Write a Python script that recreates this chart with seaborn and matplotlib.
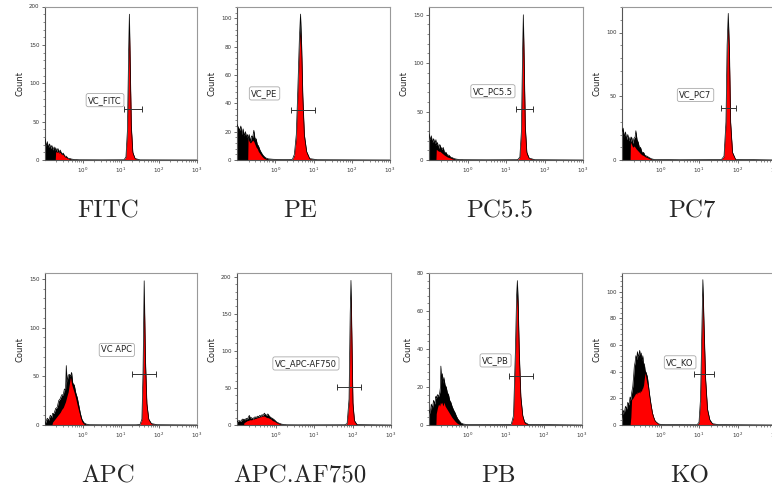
import matplotlib
matplotlib.use("Agg")
import matplotlib.pyplot as plt
import seaborn as sns
from matplotlib.ticker import AutoMinorLocator, LogLocator, NullFormatter, MultipleLocator

# panel names, shown under each histogram
names = ["FITC", "PE", "PC5.5", "PC7", "APC", "APC.AF750", "PB", "KO"]
gate_labels = ["VC_FITC", "VC_PE", "VC_PC5.5", "VC_PC7", "VC APC", "VC_APC-AF750", "VC_PB", "VC_KO"]

# histogram profiles: log10 intensity, all events (black), gated events (red)
fitc_x = [-1.00, -0.97, -0.94, -0.91, -0.88, -0.85, -0.82, -0.79, -0.76, -0.73,
          -0.72, -0.69, -0.66, -0.63, -0.60, -0.56, -0.52, -0.48, -0.44, -0.40,
          -0.35, -0.30, -0.22, -0.10, 0.50, 1.08, 1.13, 1.17, 1.20, 1.22,
          1.24, 1.27, 1.31, 1.37, 1.50, 3.00]
fitc_all = [28, 18, 24, 16, 21, 15, 19, 13, 17, 12,
            16, 11, 15, 10, 13, 8, 9, 5, 5, 2.5,
            2, 1.2, 0.6, 0.3, 0.2, 0.3, 4, 40, 140, 190,
            130, 45, 10, 2, 0.2, 0]
fitc_gated = [0, 0, 0, 0, 0, 0, 0, 0, 0, 0,
              11, 10, 11, 9, 10, 7, 7, 4, 3.5, 2,
              1, 0.5, 0, 0, 0, 0.3, 3.5, 36, 125, 172,
              118, 40, 8, 1.5, 0.1, 0]

pe_x = [-1.00, -0.93, -0.90, -0.87, -0.84, -0.81, -0.78, -0.75, -0.72,
        -0.71, -0.68, -0.65, -0.62, -0.59, -0.56, -0.53, -0.50, -0.47, -0.44,
        -0.40, -0.36, -0.31, -0.25, -0.18, -0.05, 0.10, 0.30,
        0.45, 0.50, 0.55, 0.59, 0.63, 0.66, 0.69, 0.72, 0.76, 0.82, 0.90, 1.10, 3.00]
pe_all = [25, 21, 24, 18, 22, 17, 20, 16, 18,
          14, 18, 13, 17, 16, 21, 15, 15, 11, 10,
          7, 5, 3, 1.5, 0.8, 0.5, 0.4, 0.3,
          0.5, 4, 18, 50, 85, 103, 80, 45, 18, 6, 1, 0.2, 0]
pe_gated = [0, 0, 0, 0, 0, 0, 0, 0, 0,
            15, 13, 12, 13, 14, 13, 11, 9, 8, 6,
            4.5, 3, 1.5, 0.6, 0.2, 0, 0, 0,
            0.3, 3, 15, 45, 78, 90, 72, 40, 15, 5, 0.6, 0, 0]

pc55_x = [-1.00, -0.97, -0.94, -0.91, -0.88, -0.85, -0.82,
          -0.81, -0.78, -0.75, -0.72, -0.69, -0.66, -0.63, -0.60, -0.56, -0.52,
          -0.48, -0.44, -0.40, -0.35, -0.30, -0.22, -0.10, 0.50,
          1.30, 1.36, 1.40, 1.43, 1.45, 1.47, 1.50, 1.54, 1.60, 1.75, 3.00]
pc55_all = [27, 21, 25, 18, 22, 17, 21,
            15, 18, 12, 16, 13, 11, 13, 8, 8, 5,
            5, 3, 2.5, 1.5, 1, 0.5, 0.3, 0.2,
            0.3, 3, 30, 110, 150, 105, 35, 8, 2, 0.3, 0]
pc55_gated = [0, 0, 0, 0, 0, 0, 0,
              11, 10, 9, 9, 8, 7, 6, 5, 4, 3,
              2.5, 2, 1.2, 0.6, 0.3, 0, 0, 0,
              0.2, 2.5, 27, 100, 138, 95, 30, 6, 1.5, 0.1, 0]

pc7_x = [-1.00, -0.97, -0.94, -0.91, -0.88, -0.85, -0.82, -0.79,
         -0.78, -0.75, -0.72, -0.69, -0.66, -0.64, -0.61, -0.58, -0.55, -0.52,
         -0.48, -0.44, -0.40, -0.35, -0.30, -0.24, -0.16, 0.50,
         1.58, 1.65, 1.70, 1.73, 1.76, 1.79, 1.82, 1.87, 1.95, 3.00]
pc7_all = [22, 25, 18, 22, 16, 20, 15, 18,
           14, 18, 13, 17, 18, 23, 16, 14, 10, 10,
           6, 6, 3.5, 3, 2, 1, 0.4, 0.2,
           0.3, 3, 30, 90, 115, 85, 30, 6, 0.5, 0]
pc7_gated = [0, 0, 0, 0, 0, 0, 0, 0,
             14, 12, 10, 11, 10, 9, 8, 7, 6, 5,
             4, 3.5, 2.5, 2, 1.2, 0.5, 0.1, 0,
             0.2, 2.5, 27, 82, 105, 77, 27, 5, 0.3, 0]

apc_x = [-1.00, -0.98, -0.94, -0.90, -0.86, -0.82,
         -0.80, -0.76, -0.72, -0.68, -0.64, -0.60, -0.56, -0.52, -0.49, -0.46,
         -0.44, -0.42, -0.39, -0.36, -0.33, -0.30, -0.27, -0.23, -0.19, -0.15,
         -0.11, -0.07, -0.03, 0.02, 0.08, 0.17, 0.50, 1.40, 1.50, 1.55,
         1.58, 1.61, 1.64, 1.68, 1.73, 1.80, 1.95, 3.00]
apc_all = [0, 3, 7, 5, 10, 8,
           12, 12, 17, 18, 25, 27, 31, 31, 37, 36,
           61, 44, 51, 52, 50, 54, 43, 41, 33, 28,
           20, 12, 6, 2.5, 1, 0.3, 0.2, 0.2, 0.5, 6,
           55, 148, 70, 22, 6, 1.5, 0.3, 0]
apc_gated = [0, 0, 0, 0, 0, 0,
             3, 5, 7, 9, 11, 13, 16, 18, 21, 24,
             27, 30, 34, 42, 49, 42, 38, 33, 27, 20,
             14, 8, 3.5, 1, 0.3, 0, 0, 0, 0.3, 5,
             50, 135, 62, 19, 5, 1, 0.2, 0]

af750_x = [-1.00, -0.95, -0.90, -0.86, -0.83,
           -0.82, -0.79, -0.76, -0.73, -0.70, -0.68, -0.65, -0.62, -0.59, -0.56,
           -0.53, -0.50, -0.47, -0.44, -0.41, -0.38, -0.35, -0.32, -0.29, -0.26,
           -0.23, -0.20, -0.16, -0.12, -0.08, -0.03, 0.03, 0.09, 0.15, 0.22,
           0.30, 0.60, 1.80, 1.86, 1.91, 1.94, 1.96, 1.98, 2.01, 2.05, 2.12, 3.00]
af750_all = [4, 6, 5, 8, 7,
             8, 7, 9, 8, 11, 13, 9, 10, 8, 10,
             11, 10, 12, 11, 13, 12, 14, 13, 16, 14,
             13, 15, 12, 10, 9, 7, 4, 2.5, 1.3, 0.6,
             0.3, 0.2, 0.3, 2, 35, 150, 195, 130, 30, 6, 0.5, 0]
af750_gated = [0, 0, 0, 0, 0,
               3, 4, 5, 6, 6, 7, 7, 7, 8, 8,
               9, 9, 10, 10, 11, 11, 12, 12, 12, 11,
               10, 10, 9, 8, 6, 5, 3, 1.5, 0.6, 0.2,
               0, 0, 0.2, 1.5, 30, 130, 175, 115, 25, 4, 0.3, 0]

pb_x = [-1.00, -0.97, -0.94, -0.91, -0.88, -0.85, -0.82,
        -0.81, -0.78, -0.75, -0.72, -0.70, -0.69, -0.67, -0.65, -0.63, -0.61,
        -0.58, -0.55, -0.52, -0.49, -0.46, -0.43, -0.40, -0.36, -0.32, -0.28,
        -0.24, -0.20, -0.16, -0.10, 0.00, 0.50, 1.15, 1.21, 1.26, 1.29, 1.31,
        1.33, 1.36, 1.40, 1.45, 1.50, 1.60, 3.00]
pb_all = [8, 6, 11, 9, 13, 11, 15,
          14, 16, 15, 17, 20, 31, 24, 27, 22, 25,
          21, 20, 17, 16, 13, 12, 10, 8, 6.5, 4.5,
          3, 2, 1, 0.5, 0.2, 0.2, 0.3, 5, 40, 68, 76,
          65, 38, 15, 5, 1.5, 0.3, 0]
pb_gated = [0, 0, 0, 0, 0, 0, 0,
            6, 9, 11, 10, 12, 11, 12, 11, 10, 12,
            10, 9, 8, 7, 6, 5, 4, 3, 2, 1.2,
            0.6, 0.3, 0, 0, 0, 0, 0.2, 4, 36, 62, 68,
            58, 34, 13, 4, 1, 0.1, 0]

ko_x = [-1.00, -0.97, -0.94, -0.91, -0.88, -0.85, -0.82, -0.79,
        -0.77, -0.75, -0.72, -0.70, -0.68, -0.66, -0.64, -0.62, -0.60, -0.58,
        -0.56, -0.54, -0.52, -0.50, -0.48, -0.46, -0.44, -0.42, -0.40, -0.37,
        -0.34, -0.31, -0.28, -0.25, -0.21, -0.18, -0.14, -0.10, -0.05, 0.00,
        0.20, 0.95, 1.00, 1.04, 1.07, 1.10, 1.13, 1.17, 1.22, 1.28, 1.35, 1.50, 3.00]
ko_all = [5, 11, 9, 14, 12, 17, 15, 21,
          19, 24, 29, 36, 44, 47, 52, 49, 55, 51,
          53, 56, 50, 54, 48, 52, 44, 46, 41, 39,
          36, 29, 22, 16, 9, 6, 3, 2, 0.8, 0.5,
          0.3, 0.2, 2, 20, 65, 109, 75, 35, 12, 4, 1, 0.3, 0]
ko_gated = [0, 0, 0, 0, 0, 0, 0, 0,
            6, 19, 20, 21, 22, 23, 24, 23, 25, 24,
            25, 24, 26, 25, 27, 28, 30, 35, 39, 34,
            30, 26, 19, 15, 9, 6, 3, 2, 0.6, 0.3,
            0, 0, 1.5, 17, 60, 100, 68, 32, 10, 3, 0.8, 0.2, 0]

profiles = [
    (fitc_x, fitc_all, fitc_gated),
    (pe_x, pe_all, pe_gated),
    (pc55_x, pc55_all, pc55_gated),
    (pc7_x, pc7_all, pc7_gated),
    (apc_x, apc_all, apc_gated),
    (af750_x, af750_all, af750_gated),
    (pb_x, pb_all, pb_gated),
    (ko_x, ko_all, ko_gated),
]

# y axis top and tick step per panel
y_max = [200, 108, 158, 120, 156, 205, 80, 114]
y_step = [50, 20, 50, 50, 50, 50, 20, 20]

# gate bars: log10 low, log10 high, count level
gate_lo = [1.08, 0.40, 1.26, 1.58, 1.29, 1.61, 1.08, 0.86]
gate_hi = [1.55, 1.05, 1.71, 1.96, 1.93, 2.23, 1.72, 1.40]
gate_y = [66, 35.5, 53, 41, 52, 51, 25.6, 38]

# layout (pixels) -------------------------------------------------------
W, H = 772, 493
axes_px = [(45, 6.5, 197, 160), (237, 7, 390, 160), (429, 7, 583, 160), (622, 7, 776, 160),
           (45, 273, 197, 425), (237, 273, 391, 425), (429, 273, 582, 425), (622, 273, 776, 425)]
label_pos = [(0.58, 78), (-0.28, 47), (0.66, 71), (0.91, 51),
             (0.89, 77), (0.79, 83), (0.74, 34), (0.51, 47)]
title_px = [(108, 211), (300, 211), (500, 211), (692, 211),
            (108, 476), (300, 476), (498, 476), (690, 476)]

sns.set_style("ticks")
plt.rcParams['font.family'] = ['DejaVu Sans']

fig = plt.figure(figsize=(W / 100, H / 100), dpi=100)

for i in range(8):
    l, t, r, b = axes_px[i]
    ax = fig.add_axes([l / W, 1 - b / H, (r - l) / W, (b - t) / H])
    lx, all_c, gated_c = profiles[i]
    xs = [10 ** v for v in lx]

    ax.fill_between(xs, all_c, 0, color="black", lw=0, zorder=1)
    ax.fill_between(xs, gated_c, 0, color="#ff0000", lw=0, zorder=2)
    sns.lineplot(x=xs, y=all_c, ax=ax, color="black", lw=0.5,
                 estimator=None, sort=False, zorder=3)

    # gate bar with end caps
    gx = [10 ** gate_lo[i], 10 ** gate_hi[i]]
    ax.plot(gx, [gate_y[i]] * 2, color="#333333", lw=0.7, zorder=4)
    ax.plot(gx, [gate_y[i]] * 2, ls="none", marker="|", ms=4, mew=0.7,
            color="#333333", zorder=4)

    px, py = label_pos[i]
    ax.text(10 ** px, py, gate_labels[i], ha="center", va="center", fontsize=6,
            color="#222222", zorder=5,
            bbox=dict(boxstyle="round,pad=0.25", fc="white", ec="#aaaaaa", lw=0.6))

    ax.set_xscale("log")
    ax.set_xlim(0.1, 1000)
    ax.set_ylim(0, y_max[i])
    ax.set_xticks([1, 10, 100, 1000])
    ax.xaxis.set_minor_locator(LogLocator(base=10, subs=[2, 3, 4, 5, 6, 7, 8, 9]))
    ax.xaxis.set_minor_formatter(NullFormatter())
    ax.yaxis.set_major_locator(MultipleLocator(y_step[i]))
    ax.yaxis.set_minor_locator(AutoMinorLocator(5))
    ax.tick_params(axis="both", which="major", labelsize=4, length=2.5, width=0.5,
                   pad=1.5, colors="#333333")
    ax.tick_params(axis="both", which="minor", length=1.3, width=0.4, colors="#333333")
    ax.set_xlabel("")
    ax.set_ylabel("Count", fontsize=6, labelpad=3, color="#222222")
    for side, sp in ax.spines.items():
        sp.set_visible(True)
        sp.set_linewidth(0.8)
        sp.set_color("#555555" if side in ("left", "bottom") else "#999999")

    tx, ty = title_px[i]
    fig.text(tx / W, 1 - ty / H, names[i], ha="center", va="center",
             fontsize=18, family="cmr10")

fig.savefig("out.png", dpi=100)
